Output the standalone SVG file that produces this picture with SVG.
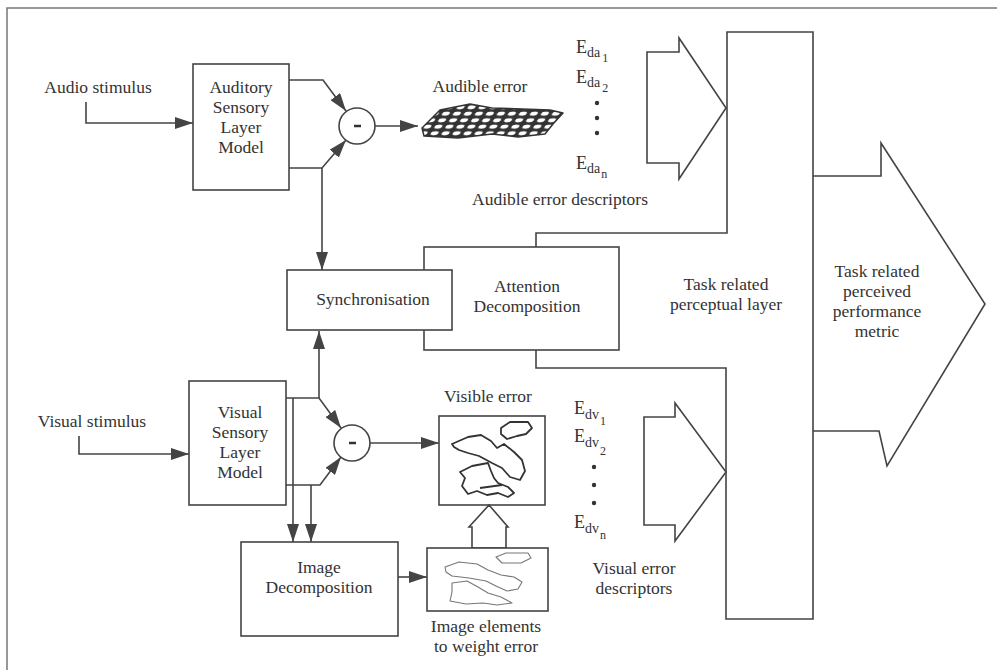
<svg xmlns="http://www.w3.org/2000/svg" width="997" height="670" viewBox="0 0 997 670">
<defs>
<style>
.t{font-family:"Liberation Serif","Times New Roman",serif;font-size:17.5px;fill:#333;text-anchor:middle}
.e{font-family:"Liberation Serif","Times New Roman",serif;fill:#333}
.box{fill:#fff;stroke:#444;stroke-width:1.6}
.ln{fill:none;stroke:#444;stroke-width:1.6}
.arr{fill:none;stroke:#444;stroke-width:1.6;marker-end:url(#ah)}
.blob{fill:none;stroke:#333;stroke-width:1.8;stroke-linejoin:round}
.blob2{fill:none;stroke:#777;stroke-width:1.1;stroke-linejoin:round}
</style>
<marker id="ah" markerUnits="userSpaceOnUse" markerWidth="18" markerHeight="12" refX="18" refY="6" orient="auto">
<path d="M0,0 L18,6 L0,12 z" fill="#444"/>
</marker>
<pattern id="mesh" width="11" height="6.5" patternUnits="userSpaceOnUse" patternTransform="skewX(-30)">
<rect width="11" height="6.5" fill="#333"/>
<ellipse cx="5.5" cy="3.25" rx="3.8" ry="2" fill="#fff"/>
</pattern>
</defs>
<rect width="997" height="670" fill="#fff"/>
<path d="M7,670 V8 H997" fill="none" stroke="#777" stroke-width="1.5"/>

<g id="connectors">
<path class="arr" d="M86,102 V123 H193"/>
<path class="arr" d="M289,80 H323 L346,111"/>
<path class="arr" d="M289,168 H322 L346,140"/>
<path class="arr" d="M322,168 V270"/>
<path class="arr" d="M375,126 H418"/>
<path class="arr" d="M79,436 V454 H189"/>
<path class="arr" d="M286,398 H319 L341,428"/>
<path class="arr" d="M319,398 V331"/>
<path class="arr" d="M286,485 H320 L341,457"/>
<path class="arr" d="M293,398 V542"/>
<path class="arr" d="M311,485 V542"/>
<path class="arr" d="M370,443 H439"/>
<path class="arr" d="M398,577 H427"/>
</g>

<g id="audio-stimulus"><text class="t" x="98" y="93">Audio stimulus</text></g>

<g id="auditory-model">
<rect class="box" x="193" y="64" width="96" height="126"/>
<text class="t" x="241" y="93">Auditory</text>
<text class="t" x="241" y="113">Sensory</text>
<text class="t" x="241" y="133">Layer</text>
<text class="t" x="241" y="153">Model</text>
</g>

<g id="audio-subtract">
<circle class="box" cx="357" cy="126" r="18"/>
<line x1="354" y1="126" x2="361" y2="126" stroke="#333" stroke-width="2.5"/>
</g>

<g id="audible-error">
<text class="t" x="480" y="92">Audible error</text>
<polygon points="422,128 440,110 470,104 492,108 522,109 550,110 563,113 553,124 545,134 518,137 492,134 458,138 424,136" fill="url(#mesh)" stroke="#333" stroke-width="1.5" stroke-linejoin="round"/>
</g>

<g id="audible-descriptors">
<text class="e" x="576" y="53" font-size="18">E<tspan font-size="14" dy="4">da</tspan><tspan font-size="12" dx="2" dy="5">1</tspan></text>
<text class="e" x="576" y="83" font-size="18">E<tspan font-size="14" dy="4">da</tspan><tspan font-size="12" dx="2" dy="5">2</tspan></text>
<circle cx="597" cy="103" r="2.2" fill="#333"/>
<circle cx="597" cy="118" r="2.2" fill="#333"/>
<circle cx="597" cy="133" r="2.2" fill="#333"/>
<text class="e" x="576" y="169" font-size="18">E<tspan font-size="14" dy="4">da</tspan><tspan font-size="12" dx="1" dy="5">n</tspan></text>
<text class="t" x="560" y="205">Audible error descriptors</text>
<polygon class="ln" points="647,52 679,52 679,38 726,108 679,179 679,163 647,163"/>
</g>

<g id="attention-decomposition">
<rect class="box" x="424" y="247" width="195" height="103"/>
<text class="t" x="527" y="292">Attention</text>
<text class="t" x="527" y="312">Decomposition</text>
</g>

<g id="synchronisation">
<rect class="box" x="287" y="270" width="165" height="60"/>
<text class="t" x="373" y="305">Synchronisation</text>
</g>

<g id="task-layer">
<path class="ln" d="M536,247 V233 H727 V32 H813 V619 H726 V368 H536 V350"/>
<text class="t" x="726" y="290">Task related</text>
<text class="t" x="726" y="310">perceptual layer</text>
</g>

<g id="performance-metric">
<path class="ln" d="M813,176 H881 V143 L985,304 L887,466 L879,431 H813"/>
<text class="t" x="877" y="277">Task related</text>
<text class="t" x="877" y="297">perceived</text>
<text class="t" x="877" y="317">performance</text>
<text class="t" x="877" y="337">metric</text>
</g>

<g id="visual-stimulus"><text class="t" x="92" y="427">Visual stimulus</text></g>

<g id="visual-model">
<rect class="box" x="189" y="381" width="97" height="124"/>
<text class="t" x="240" y="418">Visual</text>
<text class="t" x="240" y="438">Sensory</text>
<text class="t" x="240" y="458">Layer</text>
<text class="t" x="240" y="478">Model</text>
</g>

<g id="visual-subtract">
<circle class="box" cx="352" cy="443" r="18"/>
<line x1="349" y1="443" x2="356" y2="443" stroke="#333" stroke-width="2.5"/>
</g>

<g id="visible-error">
<text class="t" x="488" y="402">Visible error</text>
<rect class="box" x="439" y="416" width="106" height="89"/>
<path class="blob" d="M501,428 L510,422 L528,422 L532,428 L526,434 L517,436 L507,439 L501,434 Z"/>
<path class="blob" d="M452,444 L468,437 L481,435 L491,441 L497,448 L504,444 L514,452 L522,460 L525,471 L520,480 L510,477 L502,468 L492,463 L479,456 L468,453 L459,450 L454,447 Z"/>
<path class="blob" d="M472,466 L488,463 L491,471 L494,478 L498,483 L508,487 L514,493 L508,497 L498,493 L487,495 L477,491 L468,494 L462,486 L465,478 L460,472 Z M480,488 L502,485"/>
</g>

<g id="weight-arrow">
<polygon class="box" points="472,548 472,527 469,527 489,505 508,527 506,527 506,548"/>
</g>

<g id="image-elements">
<rect class="box" x="427" y="548" width="121" height="63"/>
<path class="blob2" d="M496,557 L506,553 L528,553 L531,558 L521,563 L502,563 Z"/>
<path class="blob2" d="M445,567 L459,562 L477,564 L488,570 L501,575 L514,577 L522,582 L518,589 L507,591 L496,586 L486,581 L469,578 L452,576 L446,572 Z"/>
<path class="blob2" d="M452,583 L467,581 L478,587 L488,593 L501,597 L512,603 L497,605 L483,603 L466,604 L450,601 L452,592 Z"/>
<text class="t" x="486" y="632">Image elements</text>
<text class="t" x="486" y="652">to weight error</text>
</g>

<g id="image-decomposition">
<rect class="box" x="241" y="542" width="157" height="94"/>
<text class="t" x="319" y="573">Image</text>
<text class="t" x="319" y="593">Decomposition</text>
</g>

<g id="visual-descriptors">
<text class="e" x="574" y="414" font-size="18">E<tspan font-size="14" dy="5">dv</tspan><tspan font-size="12" dx="1" dy="6">1</tspan></text>
<text class="e" x="574" y="442" font-size="18">E<tspan font-size="14" dy="5">dv</tspan><tspan font-size="12" dx="1" dy="8">2</tspan></text>
<circle cx="594" cy="467" r="2.2" fill="#333"/>
<circle cx="594" cy="485" r="2.2" fill="#333"/>
<circle cx="594" cy="503" r="2.2" fill="#333"/>
<text class="e" x="574" y="528" font-size="18">E<tspan font-size="14" dy="5">dv</tspan><tspan font-size="12" dx="1" dy="6">n</tspan></text>
<polygon class="ln" points="644,417 675,417 675,403 726,472 675,541 675,525 644,525"/>
<text class="t" x="634" y="574">Visual error</text>
<text class="t" x="634" y="594">descriptors</text>
</g>
</svg>
